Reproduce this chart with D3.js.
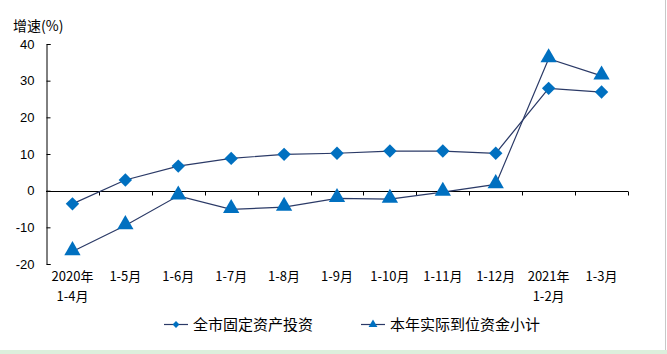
<!DOCTYPE html>
<html>
<head>
<meta charset="utf-8">
<script src="https://cdn.jsdelivr.net/npm/d3@7"></script>
<style>
  body { margin: 0; background: #fff; }
  svg { display: block; font-family: "Noto Sans CJK SC", "DejaVu Sans", sans-serif; }
</style>
</head>
<body>
<div id="chart"></div>
<script>
const categories = ["2020年\n1-4月", "1-5月", "1-6月", "1-7月", "1-8月", "1-9月", "1-10月", "1-11月", "1-12月", "2021年\n1-2月", "1-3月"];
const investValues = [-3.6, 2.9, 6.7, 8.8, 9.9, 10.2, 10.8, 10.8, 10.2, 27.9, 26.9];
const fundValues = [-16.6, -9.5, -1.4, -5.1, -4.5, -2.1, -2.3, -0.4, 1.7, 36.0, 31.3];
const yTicks = [-20, -10, 0, 10, 20, 30, 40];
const seriesNames = ["全市固定资产投资", "本年实际到位资金小计"];

const W = 667, H = 354;
const lineColor = "#2b3a67";
const markColor = "#0070c0";

const svg = d3.select("#chart").append("svg")
  .attr("width", W)
  .attr("height", H);

// frame bits at the edges of the screenshot
svg.append("rect").attr("x", 0).attr("y", 350).attr("width", W).attr("height", 4).attr("fill", "#dcefdc");
svg.append("line").attr("x1", 665.5).attr("x2", 665.5).attr("y1", 0).attr("y2", 350).attr("stroke", "#c8c8c8");

const x = d3.scaleBand().domain(categories).range([46, 628]);
const y = d3.scaleLinear().domain([-20, 40]).range([264, 44]);

// y axis, ticks pointing inwards
const yAxis = svg.append("g")
  .attr("transform", "translate(46.5,0)")
  .call(d3.axisRight(y).tickValues(yTicks).tickSize(4).tickFormat(d => d));
yAxis.select(".domain").attr("stroke", "#000");
yAxis.selectAll(".tick line").attr("stroke", "#000");
yAxis.selectAll(".tick text")
  .attr("x", -12)
  .attr("text-anchor", "end")
  .style("font-size", "13px")
  .attr("fill", "#000");

// x axis sits on zero
const xAxis = svg.append("g").attr("transform", `translate(0,${Math.round(y(0)) + 0.5})`);
xAxis.append("line")
  .attr("x1", 46).attr("x2", 628)
  .attr("stroke", "#000");
xAxis.selectAll("line.tk")
  .data(categories.slice(1).map(c => x(c)).concat([628]))
  .join("line")
  .attr("class", "tk")
  .attr("x1", d => Math.round(d) + 0.5)
  .attr("x2", d => Math.round(d) + 0.5)
  .attr("y1", 0).attr("y2", 4)
  .attr("stroke", "#000");

// category labels under the plot
const lbl = svg.append("g")
  .selectAll("text")
  .data(categories)
  .join("text")
  .attr("x", d => x(d) + x.bandwidth() / 2)
  .attr("y", 281)
  .attr("text-anchor", "middle")
  .style("font-size", "13px")
  .attr("fill", "#000");
lbl.selectAll("tspan")
  .data(d => d.split("\n"))
  .join("tspan")
  .attr("x", function () { return d3.select(this.parentNode).attr("x"); })
  .attr("dy", (d, i) => i === 0 ? 0 : 20)
  .text(d => d);

// axis title
svg.append("text")
  .attr("x", 13)
  .attr("y", 31)
  .style("font-size", "14px")
  .attr("fill", "#000")
  .text("增速(%)");

const cx = d => x(d) + x.bandwidth() / 2;
const line = d3.line()
  .x((d, i) => cx(categories[i]))
  .y(d => y(d));

const diamond = d3.symbol().type(d3.symbolDiamond2).size(115);
const triangle = d3.symbol().type(d3.symbolTriangle).size(115);

// lines
svg.append("path").datum(investValues)
  .attr("fill", "none").attr("stroke", lineColor).attr("stroke-width", 1.2)
  .attr("d", line);
svg.append("path").datum(fundValues)
  .attr("fill", "none").attr("stroke", lineColor).attr("stroke-width", 1.2)
  .attr("d", line);

// markers
svg.append("g").selectAll("path")
  .data(investValues)
  .join("path")
  .attr("transform", (d, i) => `translate(${cx(categories[i])},${y(d)})`)
  .attr("d", diamond)
  .attr("fill", markColor);
svg.append("g").selectAll("path")
  .data(fundValues)
  .join("path")
  .attr("transform", (d, i) => `translate(${cx(categories[i])},${y(d) - 1})`)
  .attr("d", triangle)
  .attr("fill", markColor);

// legend
const legend = [
  { name: seriesNames[0], x: 164, sym: d3.symbol().type(d3.symbolDiamond2).size(30) },
  { name: seriesNames[1], x: 361, sym: d3.symbol().type(d3.symbolTriangle).size(34) }
];
const lg = svg.append("g").selectAll("g")
  .data(legend)
  .join("g")
  .attr("transform", d => `translate(${d.x},324.5)`);
lg.append("line")
  .attr("x1", 0).attr("x2", 24)
  .attr("stroke", lineColor).attr("stroke-width", 1.2);
lg.append("path")
  .attr("transform", "translate(12,0)")
  .attr("d", d => d.sym())
  .attr("fill", markColor);
lg.append("text")
  .attr("x", 29)
  .attr("y", 5.5)
  .style("font-size", "15px")
  .attr("fill", "#000")
  .text(d => d.name);
</script>
</body>
</html>
